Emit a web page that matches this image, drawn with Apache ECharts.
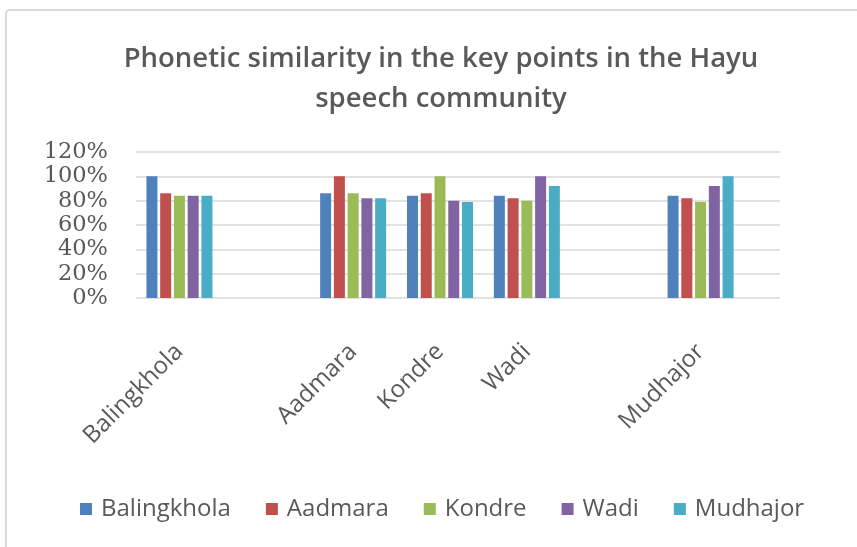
<!DOCTYPE html>
<html>
<head>
<meta charset="utf-8">
<script src="https://cdn.jsdelivr.net/npm/echarts@6/dist/echarts.min.js"></script>
<style>
  html, body { margin: 0; padding: 0; background: #fff; }
  #chart { width: 857px; height: 547px; }
</style>
</head>
<body>
<div id="chart"></div>
<script>
// 关键点名称（空位用于留出间隔）
const categories = ['Balingkhola', '', 'Aadmara', 'Kondre', 'Wadi', '', 'Mudhajor'];
const seriesNames = ['Balingkhola', 'Aadmara', 'Kondre', 'Wadi', 'Mudhajor'];

// 各系列数值 (%)
const balingkhola = [100, null, 86, 84, 84, null, 84];
const aadmara = [86, null, 100, 86, 82, null, 82];
const kondre = [84, null, 86, 100, 80, null, 79];
const wadi = [84, null, 82, 80, 100, null, 92];
const mudhajor = [84, null, 82, 79, 92, null, 100];

// y 轴刻度
const yTicks = [0, 20, 40, 60, 80, 100, 120];

const colors = ['#4f81bd', '#c0504d', '#9bbb59', '#8064a2', '#4bacc6'];
const values = [balingkhola, aadmara, kondre, wadi, mudhajor];
const textColor = '#595959';
const gridColor = '#d9d9d9';

const chart = echarts.init(document.getElementById('chart'));

const option = {
  animation: false,
  color: colors,
  graphic: [{
    type: 'rect',
    shape: { x: 6, y: 10, width: 900, height: 600, r: 4 },
    style: { fill: 'none', stroke: '#d9d9d9', lineWidth: 2 },
    silent: true
  }],
  title: {
    text: 'Phonetic similarity in the key points in the Hayu\nspeech community',
    left: 436,
    textAlign: 'center',
    top: 34,
    textStyle: {
      fontFamily: 'Open Sans',
      fontSize: 27.5,
      fontWeight: 600,
      color: textColor,
      lineHeight: 40
    }
  },
  legend: {
    data: seriesNames,
    left: 75,
    top: 492,
    icon: 'rect',
    itemWidth: 12,
    itemHeight: 12,
    itemGap: 35,
    textStyle: {
      fontFamily: 'Open Sans',
      fontSize: 24,
      color: textColor,
      padding: [0, 0, 0, 4]
    }
  },
  grid: [
    { left: 136, right: 77, top: 152, bottom: 249 },
    { left: 136, width: 608, top: 152, bottom: 249 }
  ],
  xAxis: [
    {
      gridIndex: 0,
      type: 'category',
      data: categories,
      axisLine: { show: false },
      axisTick: { show: false },
      axisLabel: { show: false }
    },
    {
      gridIndex: 1,
      type: 'category',
      data: categories,
      axisLine: { show: false },
      axisTick: { show: false },
      axisLabel: {
        interval: 0,
        rotate: 45,
        margin: 50,
        fontFamily: 'Open Sans',
        fontSize: 24,
        color: textColor
      }
    }
  ],
  yAxis: [
    {
      gridIndex: 0,
      type: 'value',
      min: yTicks[0],
      max: yTicks[yTicks.length - 1],
      interval: yTicks[1] - yTicks[0],
      axisLine: { show: false },
      axisTick: { show: false },
      axisLabel: {
        margin: 28,
        formatter: '{value}%',
        fontFamily: 'DejaVu Serif',
        fontSize: 22.5,
        color: textColor
      },
      splitLine: { lineStyle: { color: gridColor, width: 1.5 } }
    },
    {
      gridIndex: 1,
      type: 'value',
      min: yTicks[0],
      max: yTicks[yTicks.length - 1],
      show: false
    }
  ],
  series: seriesNames.map((name, i) => ({
    name,
    type: 'bar',
    xAxisIndex: 1,
    yAxisIndex: 1,
    barWidth: 11,
    barGap: '25%',
    data: values[i]
  }))
};

chart.setOption(option);
</script>
</body>
</html>
